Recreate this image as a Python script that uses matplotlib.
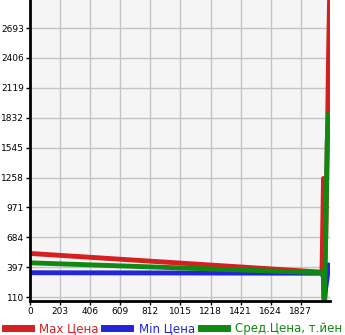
import matplotlib.pyplot as plt

years = [0, 1970, 1980, 1983, 1987, 1995, 2005, 2015, 2024]
max_price = [530, 350, 1250, 360, 340, 700, 1500, 2500, 3200]
min_price = [345, 340, 300, 90, 75, 200, 300, 420, 380]
avg_price = [440, 345, 320, 110, 90, 700, 1600, 1870, 1800]

xticks = [0, 203, 406, 609, 812, 1015, 1218, 1421, 1624, 1827]
yticks = [110, 397, 684, 971, 1258, 1545, 1832, 2119, 2406, 2693]

fig = plt.figure(figsize=(3.45, 3.35), dpi=100)
ax = fig.add_axes([0.087, 0.101, 0.87, 0.899])
ax.set_facecolor("#f5f5f5")

ax.plot(years, max_price, color="#d42020", lw=3.5, label="Max Цена")
ax.plot(years, min_price, color="#2424d8", lw=3.5, label="Min Цена")
ax.plot(years, avg_price, color="#118811", lw=3.5, label="Сред.Цена, т.йен")

ax.set_xlim(0, 2025)
ax.set_ylim(72, 2962)
ax.set_xticks(xticks)
ax.set_yticks(yticks)
ax.tick_params(labelsize=6.5, length=3, width=1, colors="black", pad=1.5)
ax.grid(True, color="#c4c4c4", lw=1)
ax.set_axisbelow(True)

for side in ["top", "right"]:
    ax.spines[side].set_visible(False)
for side in ["left", "bottom"]:
    ax.spines[side].set_linewidth(2)

leg = ax.legend(loc="upper left", bbox_to_anchor=(-0.1, -0.055), ncol=3,
                frameon=False, fontsize=8.5, handlelength=2.2, handletextpad=0.7,
                columnspacing=0.5, borderaxespad=0)
for text, line in zip(leg.get_texts(), leg.get_lines()):
    text.set_color(line.get_color())
    line.set_linewidth(5)

fig.savefig("out.png", dpi=100)
